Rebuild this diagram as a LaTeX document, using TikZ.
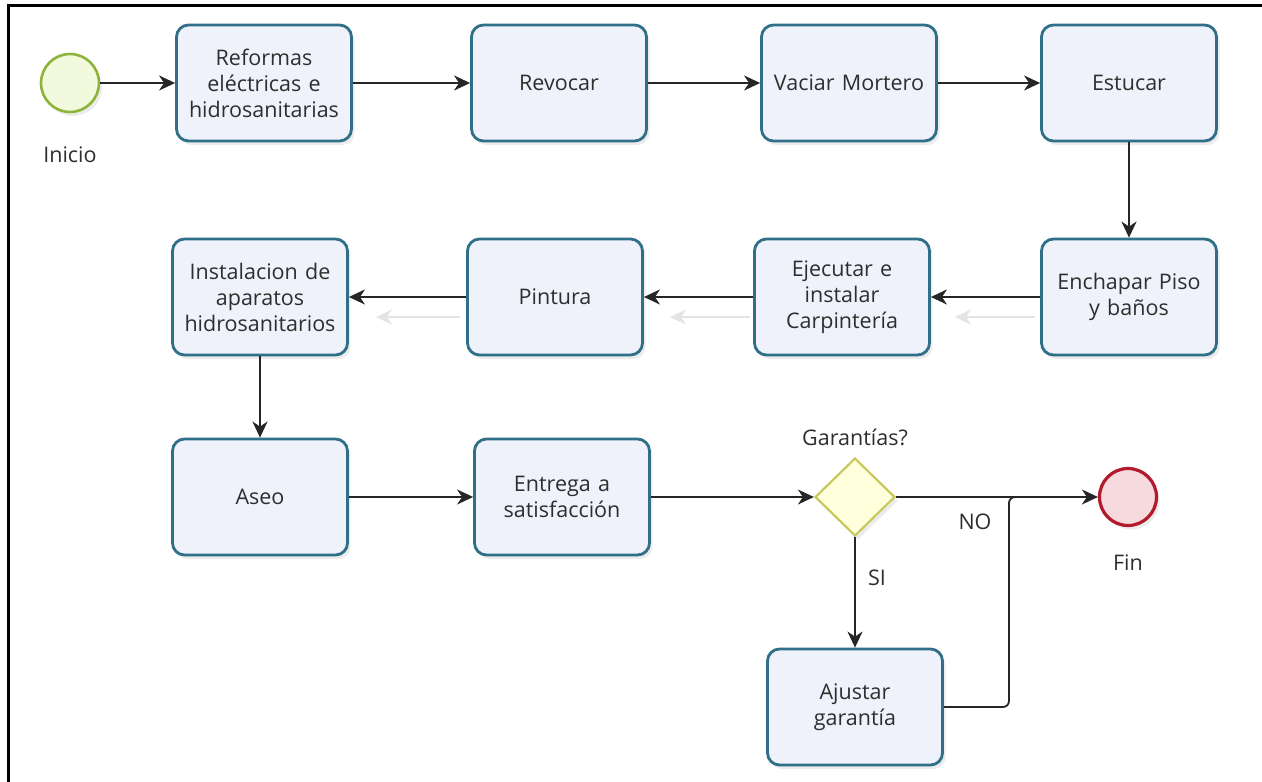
\documentclass[tikz,border=0pt]{standalone}
\usepackage{fontspec}
\setmainfont{Open Sans}
\usetikzlibrary{arrows.meta,shapes.geometric,shadows}
\definecolor{taskblue}{HTML}{2F6F88}
\definecolor{taskfill}{HTML}{EFF2FB}
\definecolor{startline}{HTML}{8DB43A}
\definecolor{startfill}{HTML}{F3F9DC}
\definecolor{endline}{HTML}{B31B2C}
\definecolor{endfill}{HTML}{F7DADD}
\definecolor{gwline}{HTML}{C9C85E}
\definecolor{gwfill}{HTML}{FFFFDC}
\definecolor{txt}{HTML}{2E2E2E}
\definecolor{ghost}{HTML}{E4E4E4}
\tikzset{
  txtfont/.style={font=\fontsize{21.5}{26}\selectfont, text=txt},
  softshadow/.style={drop shadow={shadow xshift=3pt, shadow yshift=-4pt, opacity=0.12, fill=black!60}},
  task/.style={txtfont, draw=taskblue, line width=2.8pt, rounded corners=12pt, fill=taskfill,
    minimum width=175pt, minimum height=116pt, inner sep=0pt, align=center, text width=172pt, softshadow},
  startev/.style={circle, draw=startline, line width=2.6pt, fill=startfill, minimum size=58pt, inner sep=0pt, softshadow},
  endev/.style={circle, draw=endline, line width=3.2pt, fill=endfill, minimum size=57pt, inner sep=0pt, softshadow},
  gateway/.style={diamond, draw=gwline, line width=2.2pt, fill=gwfill, minimum width=80pt, minimum height=78pt, inner sep=0pt, softshadow},
  lbl/.style={txtfont},
  conn/.style={draw=black!85, line width=1.8pt, -{Stealth[length=16pt,width=15pt,inset=5pt]}},
  plainconn/.style={draw=black!85, line width=1.8pt},
  ghostconn/.style={draw=ghost, line width=1.8pt, -{Stealth[length=16pt,width=15pt,inset=5pt]}}
}
\begin{document}
\begin{tikzpicture}[x=1pt,y=-1pt]
\useasboundingbox (0,0) rectangle (1262,782);
\fill[white] (0,0) rectangle (1262,782);
\draw[line width=3pt] (8,782) -- (8,5) -- (1262,5);

\node[startev] (ini) at (70,83) {};
\node[lbl] (inil) at (70,155) {Inicio};

\node[task] (t1) at (264,83) {Reformas\\eléctricas e\\hidrosanitarias};
\node[task] (t2) at (559,83) {Revocar};
\node[task] (t3) at (849,83) {Vaciar Mortero};
\node[task] (t4) at (1129,83) {Estucar};
\node[task] (t5) at (1129,297) {Enchapar Piso\\y baños};
\node[task] (t6) at (842,297) {Ejecutar e\\instalar\\Carpintería};
\node[task] (t7) at (555,297) {Pintura};
\node[task] (t8) at (260,297) {Instalacion de\\aparatos\\hidrosanitarios};
\node[task] (t9) at (260,497) {Aseo};
\node[task] (t10) at (562,497) {Entrega a\\satisfacción};
\node[gateway] (gw) at (855,497) {};
\node[lbl] (gwl) at (855,437) {Garantías?};
\node[endev] (fin) at (1128,497) {};
\node[lbl] (finl) at (1128,563) {Fin};
\node[task] (t11) at (855,707) {Ajustar\\garantía};

% ghost arrows
\coordinate (g1a) at (460,317); \coordinate (g1b) at (376,317);
\coordinate (g2a) at (750,317); \coordinate (g2b) at (670,317);
\coordinate (g3a) at (1035,317); \coordinate (g3b) at (955,317);
\draw[ghostconn] (g1a) -- (g1b);
\draw[ghostconn] (g2a) -- (g2b);
\draw[ghostconn] (g3a) -- (g3b);

\draw[conn] (ini) -- (t1);
\draw[conn] (t1) -- (t2);
\draw[conn] (t2) -- (t3);
\draw[conn] (t3) -- (t4);
\draw[conn] (t4) -- (t5);
\draw[conn] (t5) -- (t6);
\draw[conn] (t6) -- (t7);
\draw[conn] (t7) -- (t8);
\draw[conn] (t8) -- (t9);
\draw[conn] (t9) -- (t10);
\draw[conn] (t10) -- (gw);
\draw[conn] (gw) -- (fin);
\node[lbl] (nol) at (975,522) {NO};
\draw[conn] (gw) -- (t11);
\node[lbl] (sil) at (877,578) {SI};

\coordinate (c1) at (1009,707);
\coordinate (c2) at (1009,497);
\coordinate (j) at (1019,497);
\draw[plainconn, rounded corners=6pt] (t11.east) -- (c1) -- (c2) -- (j);
\end{tikzpicture}
\end{document}
